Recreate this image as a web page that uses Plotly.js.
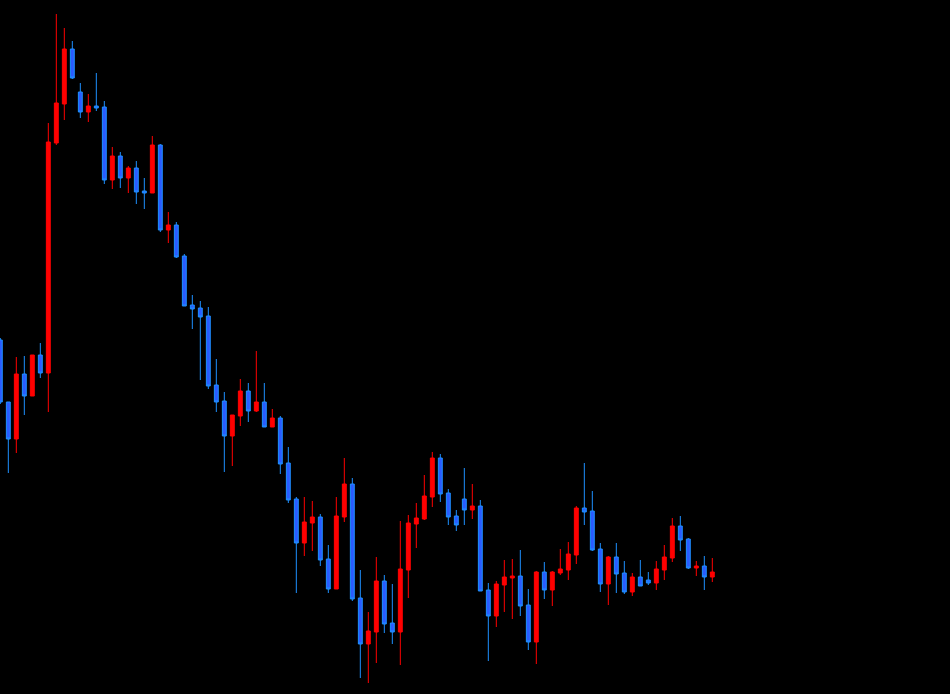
<!DOCTYPE html>
<html>
<head>
<meta charset="utf-8">
<script src="https://cdn.plot.ly/plotly-3.0.1.min.js"></script>
<style>html,body{margin:0;padding:0;background:#000;}#chart{width:950px;height:694px;}</style>
</head>
<body>
<div id="chart"></div>
<script>
const bars = [...Array(90).keys()];
const openV  = [360,298,261,326,304,345,327,557,596,651,608,588,594,593,520,544,522,532,509,507,555,470,475,444,395,392,384,315,299,264,284,309,289,298,273,282,237,201,157,177,183,141,111,183,216,102,56,68,119,77,68,130,176,181,203,242,207,184,201,190,194,110,84,115,122,124,95,58,128,110,127,130,145,192,189,151,116,143,127,108,123,120,117,130,142,174,161,132,134,123];
const highV  = [362,298,343,344,345,357,577,686,672,659,617,606,627,599,553,548,534,539,522,564,556,488,478,446,405,399,393,341,308,285,321,317,349,317,291,284,253,203,203,199,186,155,203,242,222,130,88,143,125,116,179,185,197,225,248,246,211,190,232,216,200,117,119,140,141,150,111,129,138,129,151,158,194,237,209,157,144,157,139,127,140,128,139,155,182,184,162,139,144,142];
const lowV   = [296,227,247,285,304,322,288,555,580,621,582,578,589,516,511,512,507,496,491,507,468,457,442,394,371,320,311,288,228,234,274,278,288,273,273,226,197,107,144,149,134,107,111,178,99,22,17,37,67,56,35,102,152,180,193,198,175,169,175,181,109,39,73,88,81,84,50,36,101,94,125,120,136,175,149,108,95,107,106,104,114,115,110,120,138,149,131,124,110,118];
const closeV = [298,261,326,304,345,327,558,597,651,622,588,594,592,520,544,522,532,508,507,555,470,475,443,394,391,383,314,298,264,285,309,289,298,273,282,236,200,157,178,183,140,111,184,216,101,56,69,119,76,68,131,177,182,204,242,206,183,175,190,194,109,84,116,123,124,94,58,128,110,128,131,146,192,188,150,116,143,126,108,123,114,117,131,143,174,160,132,134,123,128];

const trace = {
  type: 'candlestick',
  x: bars, open: openV, high: highV, low: lowV, close: closeV,
  increasing: {line: {color: '#ff0000', width: 1}, fillcolor: '#ff0000'},
  decreasing: {line: {color: '#1e90ff', width: 1}, fillcolor: '#2a5bff'},
  whiskerwidth: 0,
  hoverinfo: 'none'
};
const layout = {
  width: 950, height: 694,
  margin: {l: 0, r: 0, t: 0, b: 0, pad: 0},
  paper_bgcolor: '#000', plot_bgcolor: '#000',
  showlegend: false,
  xaxis: {range: [-0.04, 118.71], visible: false, rangeslider: {visible: false}, fixedrange: true},
  yaxis: {range: [6, 700], visible: false, fixedrange: true}
};
Plotly.newPlot('chart', [trace], layout, {displayModeBar: false, staticPlot: true});
</script>
</body>
</html>
